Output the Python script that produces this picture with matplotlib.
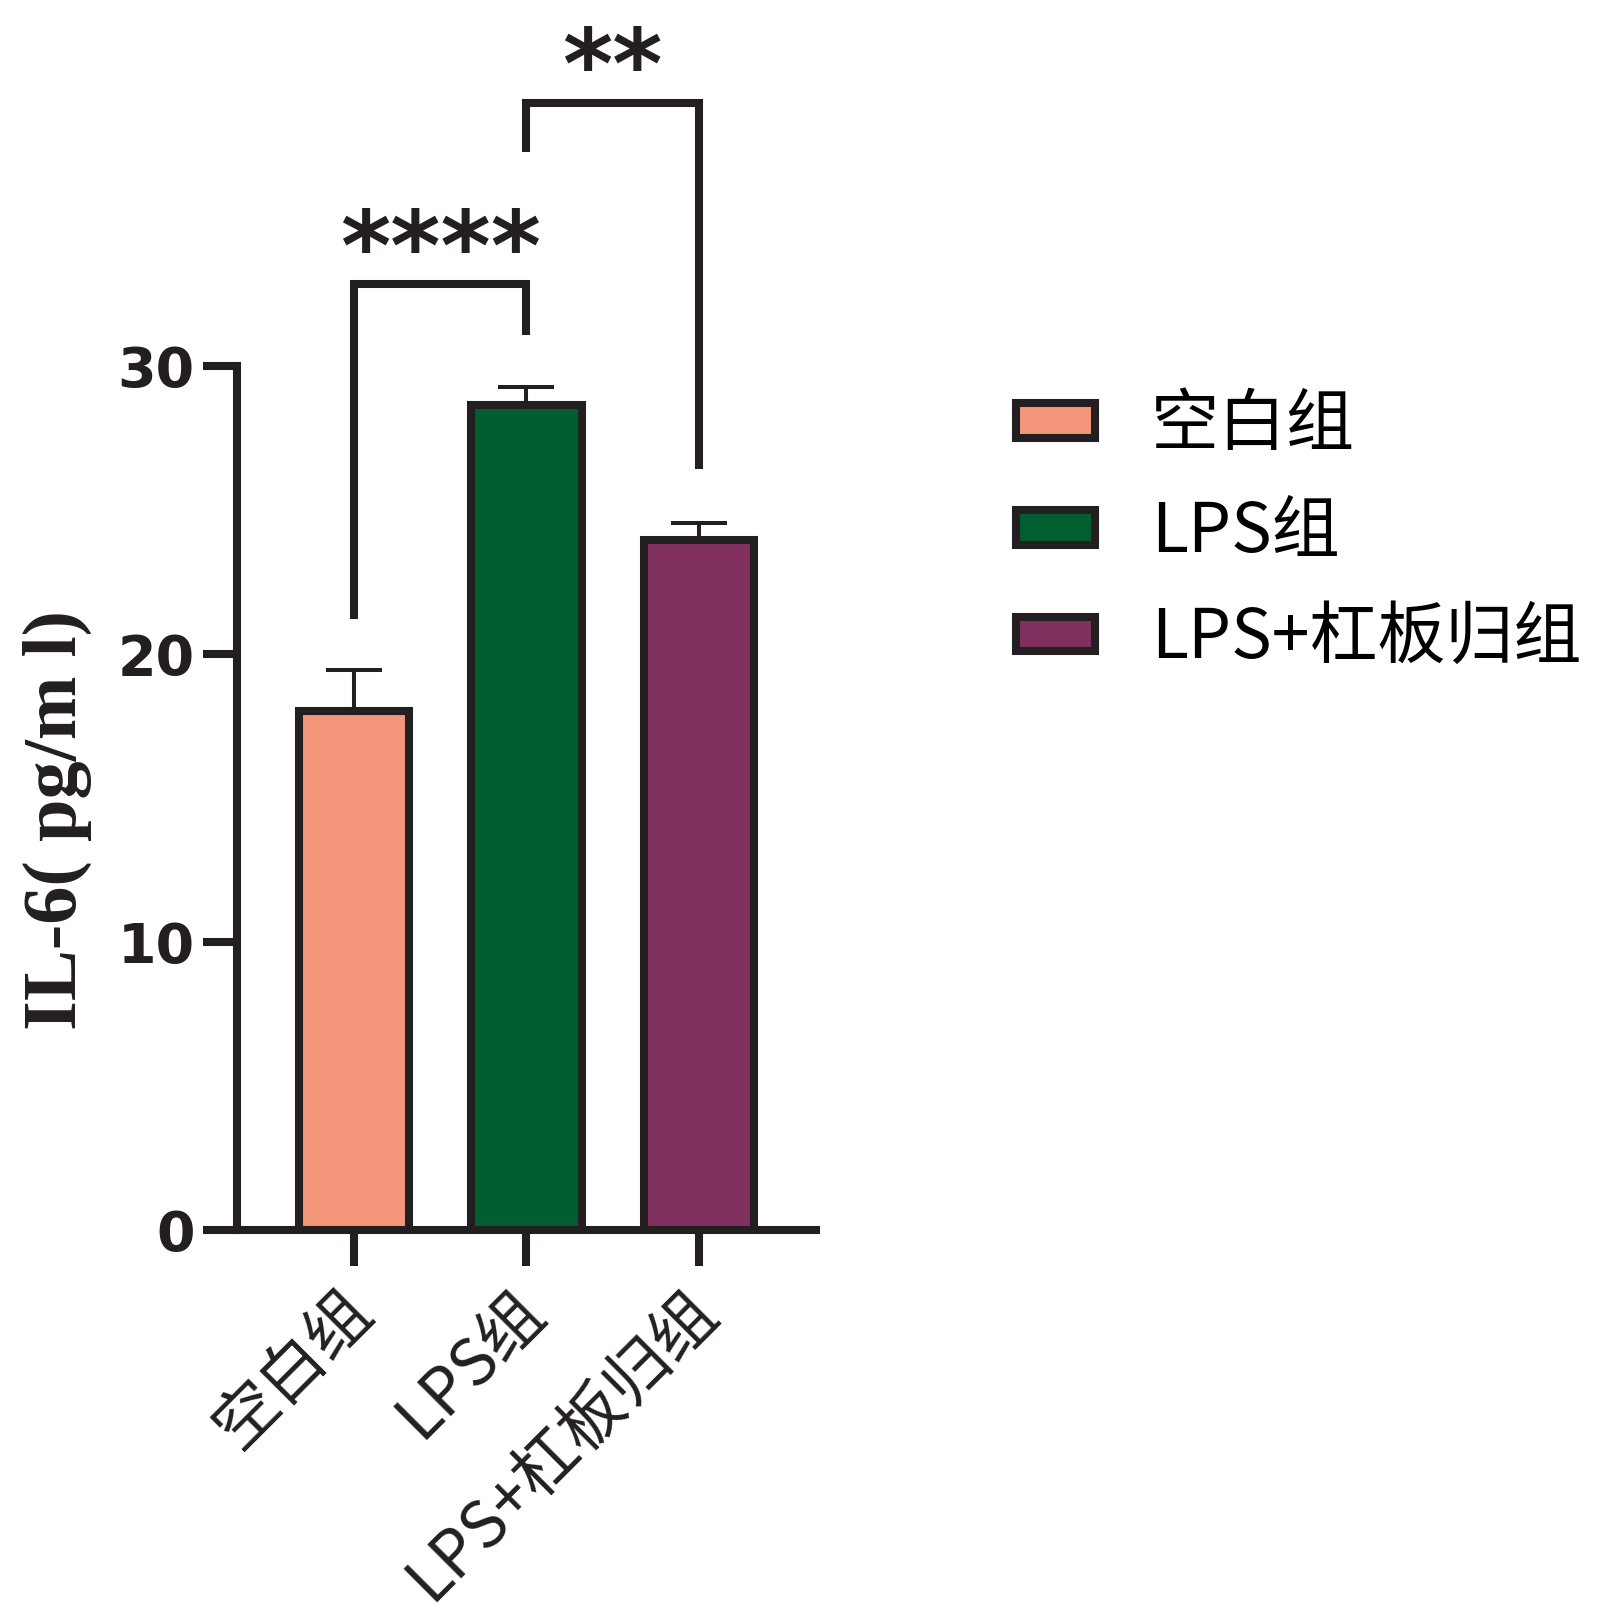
import matplotlib
matplotlib.use('Agg')
import matplotlib.pyplot as plt
import matplotlib.transforms as mtransforms
from matplotlib.patches import Patch

# data
groups = ['空白组', 'LPS组', 'LPS+杠板归组']
means = [18.0, 28.65, 23.95]
errors = [1.45, 0.6, 0.6]
colors = ['#F4967A', '#015E31', '#812F5E']
y_ticks = [0, 10, 20, 30]

# significance brackets: (left group, right group, bracket height, left leg end, right leg end, label)
brackets = [
    (0, 1, 32.83, 21.2, 31.05, '****'),
    (1, 2, 39.13, 37.4, 26.4, '**'),
]

EDGE = '#231F20'
LW = 5.8
CJK = ['Noto Sans CJK SC', 'DejaVu Sans']

fig = plt.figure(figsize=(16, 16.16), dpi=100)
ax = fig.add_axes([0.148, 0.2389, 0.362, 0.7488])

x = list(range(len(groups)))
ax.bar(x, means, width=0.64, color=colors, edgecolor=EDGE, linewidth=LW, zorder=3)
ax.errorbar(x, means, yerr=[[0] * len(errors), errors], fmt='none', ecolor=EDGE,
            elinewidth=2.9, capsize=20, capthick=2.9, zorder=2)

ax.set_xlim(-0.68, 2.68)
ax.set_ylim(0, 42.0)

for side in ['top', 'right']:
    ax.spines[side].set_visible(False)
ax.spines['left'].set_bounds(0, 30)
for side in ['left', 'bottom']:
    ax.spines[side].set_linewidth(LW)
    ax.spines[side].set_color(EDGE)

ax.set_yticks(y_ticks)
ax.set_yticklabels([str(t) for t in y_ticks], fontsize=40, fontweight='bold',
                   family='DejaVu Sans', color=EDGE)
ax.tick_params(axis='y', length=24.5, width=LW, color=EDGE, pad=6)
ax.set_xticks(x)
ax.set_xticklabels(groups, rotation=45, ha='right', rotation_mode='anchor',
                   fontsize=46.5, family=CJK, color=EDGE)
ax.tick_params(axis='x', length=26, width=LW, color=EDGE, pad=8)
shift = mtransforms.ScaledTranslation(-16 / 100, 0, fig.dpi_scale_trans)
for lbl in ax.get_xticklabels():
    lbl.set_transform(lbl.get_transform() + shift)

# brackets and stars
for g1, g2, h, l1, l2, label in brackets:
    ax.plot([g1, g1, g2, g2], [l1, h, h, l2], color=EDGE, linewidth=LW,
            solid_capstyle='butt', solid_joinstyle='miter', clip_on=False)
    ax.text((g1 + g2) / 2, h + 0.15, label, ha='center', va='baseline',
            fontsize=69, fontweight='bold', family='DejaVu Sans', color=EDGE)

# y label
fig.text(57 / 1600, 1 - 820 / 1616, 'IL-6( pg/m l)', rotation=90, ha='center', va='center',
         fontsize=55, fontweight='bold', family=['Liberation Serif', 'Noto Sans CJK SC'],
         color=EDGE)

# legend
handles = [Patch(facecolor=c, edgecolor=EDGE, linewidth=LW) for c in colors]
ax.legend(handles, groups, loc='upper left', bbox_to_anchor=(1.299, 0.716),
          frameon=False, prop={'family': CJK, 'size': 49},
          handlelength=1.16, handleheight=0.41, handletextpad=0.82,
          labelspacing=0.54, borderaxespad=0)

fig.savefig('out.png', dpi=100)
